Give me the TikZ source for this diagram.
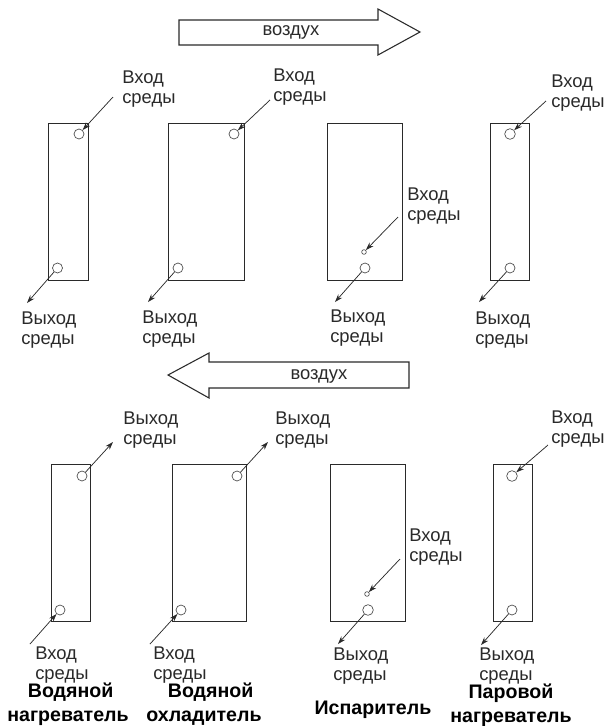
\documentclass[tikz,border=0pt]{standalone}
\usepackage{fontspec}
\setmainfont{Liberation Sans}
\usetikzlibrary{arrows.meta}
\definecolor{ink}{HTML}{2A2A2A}
\tikzset{
 unitbox/.style={draw=ink,line width=0.6pt,fill=white,inner sep=0pt,minimum height=117.75pt},
 port/.style={circle,draw=ink!85,line width=0.5pt,inner sep=0pt,minimum size=#1},
 port/.default=7.5pt,
 flow/.style={draw=ink,line width=0.55pt,-{Stealth[length=6pt,width=4pt]}},
 lbl/.style={anchor=west,align=left,inner sep=0pt,font=\fontsize{13.8}{15}\selectfont,text=ink},
 air/.style={anchor=center,inner sep=0pt,font=\fontsize{13.8}{15}\selectfont,text=ink},
 title/.style={anchor=center,align=center,inner sep=0pt,font=\fontsize{14.7}{18}\selectfont\bfseries,text=black},
 shaft/.style={draw=ink,line width=0.8pt,fill=white,line join=miter}
}
\begin{document}
\begin{tikzpicture}[x=0.75pt,y=-0.75pt]
\useasboundingbox[fill=white] (0,0) rectangle (604,726);
% air arrows
\draw[shaft] (179,20) -- (378,20) -- (378,9) -- (420,32) -- (378,55) -- (378,45) -- (179,45) -- cycle;
\node[air] (airA) at (291,32.5) {воздух};
\draw[shaft] (168,375) -- (209,353) -- (209,362) -- (409,362) -- (409,388) -- (209,388) -- (209,398) -- cycle;
\node[air] (airB) at (319,376) {воздух};
% top row boxes
\node[unitbox,minimum width=30pt] (b1) at (68,201.5) {};
\node[unitbox,minimum width=57pt] (b2) at (206,201.5) {};
\node[unitbox,minimum width=56.25pt] (b3) at (364.5,201.5) {};
\node[unitbox,minimum width=29.25pt] (b4) at (509.5,201.5) {};
% bottom row boxes
\node[unitbox,minimum width=29.25pt] (b5) at (70.5,542.5) {};
\node[unitbox,minimum width=55.5pt] (b6) at (209,542.5) {};
\node[unitbox,minimum width=56.25pt] (b7) at (367.5,542.5) {};
\node[unitbox,minimum width=29.25pt] (b8) at (512.5,542.5) {};
% ports
\node[port] (p1) at (79,134) {};
\node[port] (q1) at (57.5,268) {};
\node[port] (p2) at (234,134) {};
\node[port] (q2) at (178,268) {};
\node[port=3.5pt] (p3) at (364,252) {};
\node[port] (q3) at (365,268) {};
\node[port=8pt] (p4) at (510,134) {};
\node[port] (q4) at (510,268) {};
\node[port] (p5) at (82,476) {};
\node[port] (q5) at (60,610) {};
\node[port] (p6) at (237,476) {};
\node[port] (q6) at (181,610) {};
\node[port=3.5pt] (p7) at (367,594) {};
\node[port=8pt] (q7) at (368,610) {};
\node[port=8pt] (p8) at (512,476) {};
\node[port] (q8) at (512,610) {};
% free ends
\coordinate (f1) at (113,97);
\coordinate (g1) at (27,303);
\coordinate (f2) at (270,100);
\coordinate (g2) at (148,302);
\coordinate (f3) at (398,217);
\coordinate (g3) at (335,302);
\coordinate (f4) at (546,101);
\coordinate (g4) at (479,302);
\coordinate (f5) at (113,442);
\coordinate (g5) at (30,644);
\coordinate (f6) at (268,442);
\coordinate (g6) at (150,644);
\coordinate (f7) at (400,559);
\coordinate (g7) at (338,644);
\coordinate (f8) at (548,445);
\coordinate (g8) at (481,645);
% connectors
\draw[flow] (f1) -- (p1);
\draw[flow] (q1) -- (g1);
\draw[flow] (f2) -- (p2);
\draw[flow] (q2) -- (g2);
\draw[flow] (f3) -- (p3);
\draw[flow] (q3) -- (g3);
\draw[flow] (f4) -- (p4);
\draw[flow] (q4) -- (g4);
\draw[flow] (p5) -- (f5);
\draw[flow] (g5) -- (q5);
\draw[flow] (p6) -- (f6);
\draw[flow] (g6) -- (q6);
\draw[flow] (f7) -- (p7);
\draw[flow] (q7) -- (g7);
\draw[flow] (f8) -- (p8);
\draw[flow] (q8) -- (g8);
% labels
\node[lbl] (t1) at (122,89.5) {Вход\\среды};
\node[lbl] (t2) at (273,87.5) {Вход\\среды};
\node[lbl] (t3) at (407,206.5) {Вход\\среды};
\node[lbl] (t4) at (551,93) {Вход\\среды};
\node[lbl] (u1) at (21,330) {Выход\\среды};
\node[lbl] (u2) at (142,329) {Выход\\среды};
\node[lbl] (u3) at (330,328) {Выход\\среды};
\node[lbl] (u4) at (475,330.5) {Выход\\среды};
\node[lbl] (t5) at (123,430) {Выход\\среды};
\node[lbl] (t6) at (275,430) {Выход\\среды};
\node[lbl] (t7) at (409,547.5) {Вход\\среды};
\node[lbl] (t8) at (551,429.5) {Вход\\среды};
\node[lbl] (u5) at (35,665.5) {Вход\\среды};
\node[lbl] (u6) at (153,665.5) {Вход\\среды};
\node[lbl] (u7) at (333,666.5) {Выход\\среды};
\node[lbl] (u8) at (479,666.5) {Выход\\среды};
% titles
\node[title] (n1) at (68,704.5) {\hspace*{4pt}Водяной\\нагреватель};
\node[title] (n2) at (204,704.5) {\hspace*{10pt}Водяной\\охладитель};
\node[title] (n3) at (373,710) {Испаритель};
\node[title] (n4) at (511,705) {Паровой\\нагреватель};
\end{tikzpicture}
\end{document}
